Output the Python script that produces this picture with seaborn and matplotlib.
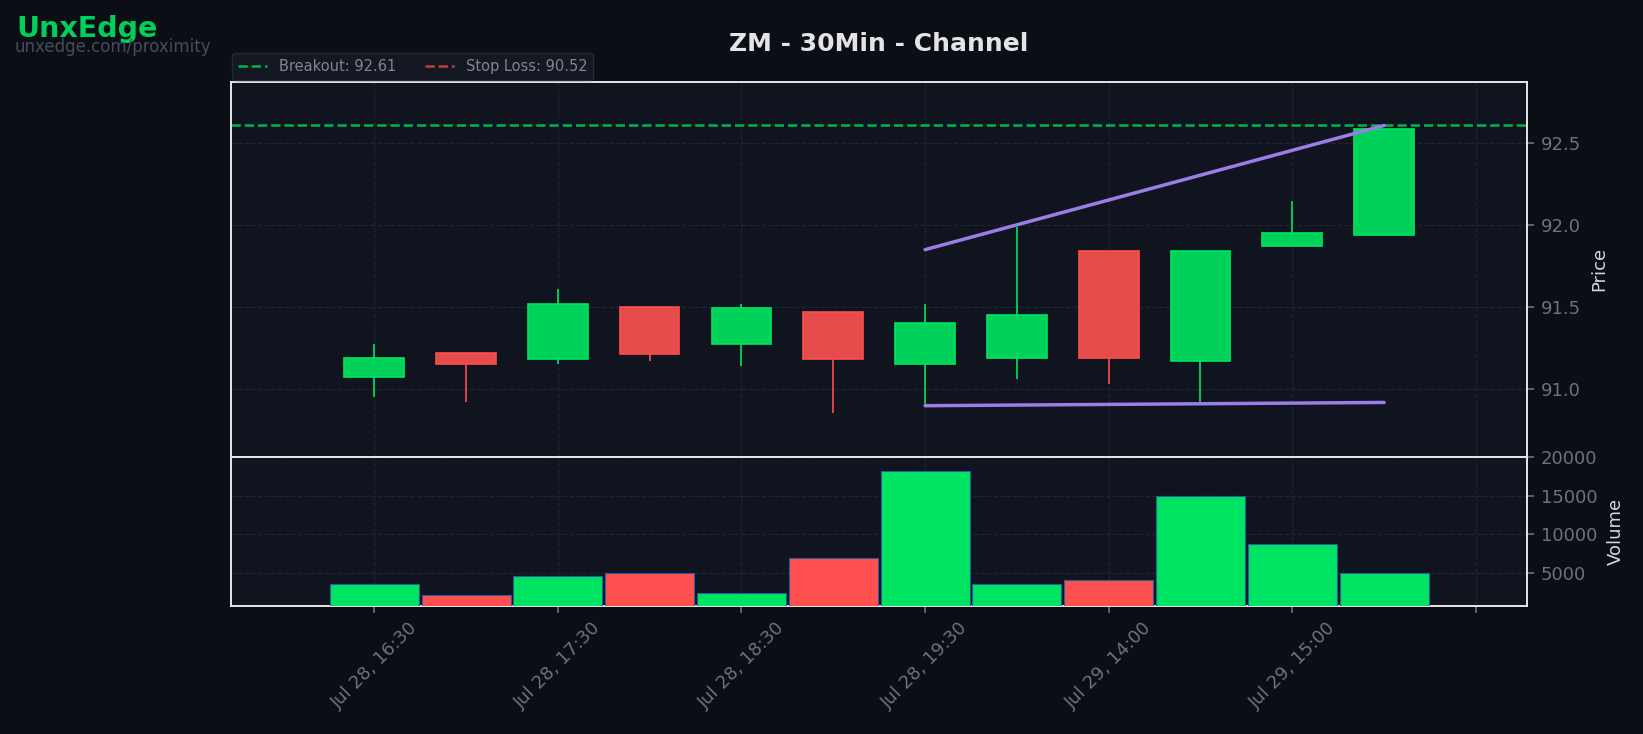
import matplotlib
matplotlib.use('Agg')
import matplotlib.pyplot as plt
import seaborn as sns
import pandas as pd
import numpy as np

# ZM 30분봉 캔들 데이터
opens   = [91.07, 91.22, 91.18, 91.50, 91.27, 91.47, 91.15, 91.19, 91.84, 91.17, 91.87, 91.94]
highs   = [91.27, 91.22, 91.61, 91.50, 91.52, 91.47, 91.52, 91.99, 91.84, 91.84, 92.15, 92.59]
lows    = [90.95, 90.92, 91.15, 91.17, 91.14, 90.85, 90.90, 91.06, 91.03, 90.92, 91.87, 91.94]
closes  = [91.19, 91.15, 91.52, 91.21, 91.49, 91.18, 91.40, 91.45, 91.19, 91.84, 91.95, 92.59]
volumes = [3640, 2230, 4580, 4960, 2490, 6890, 18130, 3640, 4060, 14920, 8770, 5050]

tick_pos = [0, 2, 4, 6, 8, 10, 12]
tick_labels = ['Jul 28, 16:30', 'Jul 28, 17:30', 'Jul 28, 18:30', 'Jul 28, 19:30',
               'Jul 29, 14:00', 'Jul 29, 15:00', '']

# 채널 라인 (시작/끝 캔들 인덱스)
channel_x = [6, 11]
upper_y = [91.85, 92.61]
lower_y = [90.895, 90.915]

breakout = 92.61
stop_loss = 90.52

bg = '#0b0e15'
panel = '#10141f'
green_body, green_edge = '#00d15a', '#00e660'
red_body, red_edge = '#e54b4b', '#ff4d4d'
tick_col = '#6b7280'

sns.set_theme(style='darkgrid', rc={
    'figure.facecolor': bg,
    'axes.facecolor': panel,
    'axes.edgecolor': '#e6e6e6',
    'axes.linewidth': 1.4,
    'grid.color': '#1f2432',
    'grid.linestyle': '--',
    'grid.linewidth': 0.9,
    'text.color': '#e0e0e0',
})
plt.rcParams['font.family'] = ['DejaVu Sans']

x = np.arange(len(opens))
o = np.array(opens); c = np.array(closes)
up = c >= o

fig = plt.figure(figsize=(16.43, 7.34), dpi=100)
ax = fig.add_axes([0.1406, 0.3778, 0.789, 0.5109])
axv = fig.add_axes([0.1406, 0.1744, 0.789, 0.2034], sharex=ax)

# 캔들
ax.vlines(x[up], np.array(lows)[up], np.array(highs)[up], color=green_edge, lw=1.2, zorder=2)
ax.vlines(x[~up], np.array(lows)[~up], np.array(highs)[~up], color=red_edge, lw=1.2, zorder=2)
ax.bar(x[up], (c - o)[up], bottom=o[up], width=0.65, color=green_body,
       edgecolor=green_edge, linewidth=1.2, zorder=3)
ax.bar(x[~up], (o - c)[~up], bottom=c[~up], width=0.65, color=red_body,
       edgecolor=red_edge, linewidth=1.2, zorder=3)

# 채널
ax.plot(channel_x, upper_y, color='#9a7ee6', lw=2.5, zorder=4)
ax.plot(channel_x, lower_y, color='#9a7ee6', lw=2.5, zorder=4)

ax.axhline(breakout, color='#00b44f', ls='--', lw=1.8, label=f'Breakout: {breakout:.2f}')
ax.axhline(stop_loss, color='#c83c3e', ls='--', lw=1.8, label=f'Stop Loss: {stop_loss:.2f}')

ax.set_ylim(90.583, 92.878)
ax.set_xlim(-1.56, 12.56)
ax.yaxis.tick_right()
ax.yaxis.set_label_position('right')
ax.set_yticks([91.0, 91.5, 92.0, 92.5])
ax.set_ylabel('Price', fontsize=13, color='#d4d7de', labelpad=7)
ax.tick_params(axis='y', right=True, length=6.7/1.389, width=1.2, pad=4.8,
               labelsize=13, colors=tick_col)
ax.tick_params(axis='x', bottom=False, labelbottom=False)
ax.grid(True, axis='both')
ax.set_title('ZM - 30Min - Channel', fontsize=18, fontweight='bold',
             color='#e4e4e4', pad=22)

leg = ax.legend(loc='lower left', bbox_to_anchor=(-0.001, 1.0), ncol=2,
                fontsize=10.5, frameon=True, borderaxespad=0.15,
                facecolor='#131823', edgecolor='#232936', framealpha=1)
for t in leg.get_texts():
    t.set_color('#80868f')

# 거래량
df = pd.DataFrame({'idx': x, 'volume': volumes, 'dir': np.where(up, 'up', 'down')})
sns.barplot(data=df, x='idx', y='volume', hue='dir', native_scale=True, dodge=False,
            palette={'up': '#00e463', 'down': '#ff5050'}, saturation=1, width=0.97,
            edgecolor='#2a5d9a', linewidth=0.8, legend=False, ax=axv, zorder=3)
axv.set_ylim(770, 19950)
axv.set_xlim(-1.56, 12.56)
axv.yaxis.tick_right()
axv.yaxis.set_label_position('right')
axv.set_yticks([5000, 10000, 15000, 20000])
axv.set_ylabel('Volume', fontsize=13, color='#d4d7de', labelpad=7)
axv.set_xlabel('')
axv.grid(True, axis='both')
axv.set_xticks(tick_pos)
axv.set_xticklabels(tick_labels, rotation=45, ha='center')
axv.tick_params(axis='y', right=True, length=6.7/1.389, width=1.2, pad=4.8,
                labelsize=13, colors=tick_col)
axv.tick_params(axis='x', bottom=True, length=6.7/1.389, width=1.2, pad=4.8,
                labelsize=13, colors=tick_col)

# 워터마크
fig.text(0.0101, 0.950, 'UnxEdge', fontsize=20.5, fontweight='bold', color='#00d05a', va='baseline')
fig.text(0.0091, 0.9296, 'unxedge.com/proximity', fontsize=12, color='#464c5a', va='baseline')

fig.savefig('out.png', dpi=100, facecolor=bg)
